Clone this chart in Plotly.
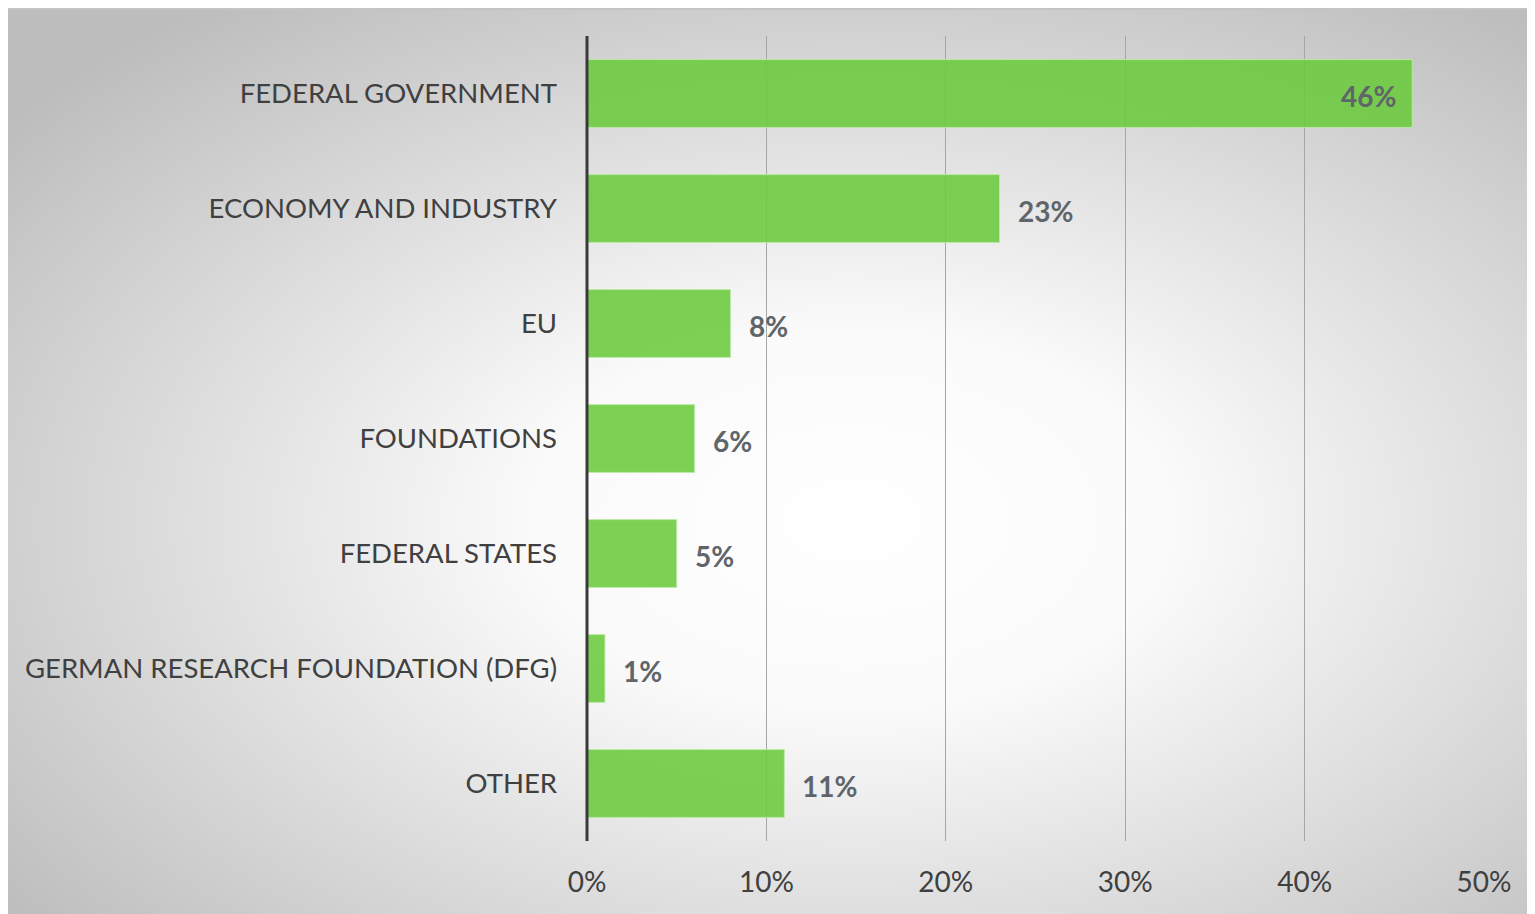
import base64
import plotly.graph_objects as go

categories = ["FEDERAL GOVERNMENT", "ECONOMY AND INDUSTRY", "EU", "FOUNDATIONS",
              "FEDERAL STATES", "GERMAN RESEARCH FOUNDATION (DFG)", "OTHER"]
values = [0.46, 0.23, 0.08, 0.06, 0.05, 0.01, 0.11]
labels = ["46%", "23%", "8%", "6%", "5%", "1%", "11%"]
label_inside = [True, False, False, False, False, False, False]
tick_vals = [0, 0.1, 0.2, 0.3, 0.4, 0.5]
tick_text = ["0%", "10%", "20%", "30%", "40%", "50%"]

FONT = "Lato"

svg = ('<svg xmlns="http://www.w3.org/2000/svg" width="1535" height="914" '
       'viewBox="0 0 100 100" preserveAspectRatio="none">'
       '<defs><radialGradient id="g" cx="0.55" cy="0.56" r="0.7" gradientUnits="objectBoundingBox">'
       '<stop offset="0" stop-color="#ffffff"/><stop offset="0.3" stop-color="#fafafa"/>'
       '<stop offset="1" stop-color="#bdbdbd"/></radialGradient></defs>'
       '<rect x="0" y="0" width="100" height="100" fill="url(#g)"/></svg>')
svg_uri = "data:image/svg+xml;base64," + base64.b64encode(svg.encode()).decode()

fig = go.Figure()
fig.add_trace(go.Bar(
    y=categories, x=values, orientation="h",
    marker=dict(color="rgba(106,203,60,0.88)", line=dict(color="rgba(190,235,170,0.9)", width=1)),
    hoverinfo="skip",
))

annotations = []
for c, v, t, ins in zip(categories, values, labels, label_inside):
    annotations.append(dict(
        x=v, y=c, xref="x", yref="y", text=t, showarrow=False,
        xanchor="right" if ins else "left", xshift=-14 if ins else 16, yshift=-2,
        font=dict(family=FONT, size=28, color="#5f6569", weight="bold"),
    ))

W, H = 1535, 914
L, R, T, B = 579, 59, 28, 81
PW, PH = W - L - R, H - T - B
fig.update_layout(
    width=W, height=H,
    margin=dict(l=L, r=R, t=T, b=B),
    paper_bgcolor="#d0d0d0", plot_bgcolor="rgba(0,0,0,0)",
    bargap=0.41, showlegend=False,
    annotations=annotations,
    images=[dict(source=svg_uri, xref="paper", yref="paper",
                 x=-L / PW, y=1 + T / PH, sizex=W / PW, sizey=H / PH,
                 xanchor="left", yanchor="top", sizing="stretch", layer="below")],
    shapes=[dict(type="line", xref="paper", yref="paper",
                 x0=-L / PW, x1=1 + R / PW, y0=1 + (T - 1) / PH, y1=1 + (T - 1) / PH,
                 line=dict(color="#c4c4c4", width=2), layer="below"),
            dict(type="line", xref="paper", yref="paper", x0=0, x1=0, y0=0, y1=1,
                 line=dict(color="#3a3a3a", width=3), layer="above")],
    xaxis=dict(range=[0, 0.5], tickvals=tick_vals, ticktext=tick_text,
               showgrid=True, gridcolor="#a6a6a6", gridwidth=1, zeroline=False,
               showline=False, ticks="", ticklabelstandoff=22,
               tickfont=dict(family=FONT, size=28, color="#404040")),
    yaxis=dict(categoryorder="array", categoryarray=categories[::-1],
               showgrid=False, zeroline=False, showline=False, ticks="",
               ticklabelstandoff=29,
               tickfont=dict(family=FONT, size=27.5, color="#404040")),
)
fig.write_html("out.html")
